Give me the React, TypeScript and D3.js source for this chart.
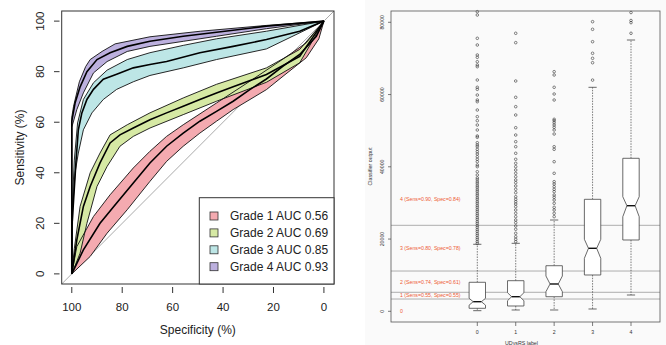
import React from 'react';
import * as d3 from 'd3';

// ---------- left panel: ROC curves (spec %, sens %) ----------
const specTicks = [100, 80, 60, 40, 20, 0];
const sensTicks = [0, 20, 40, 60, 80, 100];
const gradeLabels = ['Grade 1 AUC 0.56', 'Grade 2 AUC 0.69', 'Grade 3 AUC 0.85', 'Grade 4 AUC 0.93'];
const gradeColors = ['#F4AAB0', '#D6E9A4', '#BDE6E6', '#BCB0DE'];

type Pt = [number, number];

const grade1Median: Pt[] = [[100, 0], [95.4, 9.5], [88.8, 20], [82.2, 28], [75.6, 36], [69, 43.9], [62.4, 50.5], [55.8, 55.7], [49.2, 60.4], [42.6, 64.3], [36, 68.3], [29.4, 72.9], [22.8, 77.1], [16.2, 82.2], [9.6, 86.8], [3, 94], [0, 100]];
const grade1Upper: Pt[] = [[100, 0], [98, 10.8], [91.4, 22.7], [84.8, 31.3], [75.6, 41.9], [69, 48.5], [62.4, 54.4], [55.8, 59], [42.6, 67.6], [29.4, 76.2], [16.2, 85], [7, 91.4], [0, 100]];
const grade1Lower: Pt[] = [[100, 0], [92.7, 6.9], [86, 16.1], [78, 25.4], [69, 36.6], [62.4, 44.5], [55.8, 50.5], [49.2, 55.7], [42.6, 60.4], [36, 65], [22.8, 72.9], [16.2, 78.2], [7, 85.5], [2, 93], [0, 100]];

const grade2Median: Pt[] = [[100, 0], [98, 13.5], [95.4, 26.7], [92.7, 34.6], [88.8, 43.9], [84.8, 51.8], [80.9, 55], [75.6, 57.7], [69, 61], [62.4, 63.7], [55.8, 66.3], [49.2, 69], [42.6, 71.6], [36, 74], [22.8, 78.9], [9.6, 86], [0, 100]];
const grade2Upper: Pt[] = [[100, 0], [99, 10], [96.7, 26.7], [92.7, 40], [88.8, 47.8], [84.8, 55], [78, 59], [69, 63.7], [55.8, 69.6], [42.6, 75], [22.8, 81.5], [9.6, 88.8], [0, 100]];
const grade2Lower: Pt[] = [[100, 0], [96.7, 8.2], [94, 20], [90, 34.6], [86, 42.5], [80.9, 50.5], [75.6, 54.4], [69, 57.7], [55.8, 63], [42.6, 68.3], [22.8, 75.8], [9.6, 83.5], [0, 100]];

const grade3Median: Pt[] = [[100, 0], [100, 18], [99.3, 29], [98.3, 45], [97.4, 57], [96, 63.7], [94, 69], [91.4, 73], [87.5, 77], [82.2, 79], [75.6, 81.5], [69, 82.8], [62.4, 84], [49.2, 87.5], [36, 90], [22.8, 92.7], [9.6, 96], [0, 100]];
const grade3Upper: Pt[] = [[100, 0], [100, 22], [99, 45], [97.7, 59.7], [95.4, 69], [91.4, 75.6], [86, 80.6], [78, 84.8], [69, 87.5], [55.8, 90.4], [42.6, 93], [22.8, 96], [0, 100]];
const grade3Lower: Pt[] = [[100, 0], [99.6, 26.7], [98.7, 40], [97.4, 47.8], [95.4, 57], [92, 63.7], [87.5, 69], [82.2, 73], [75.6, 76], [69, 78.5], [55.8, 81.5], [42.6, 84.8], [22.8, 89], [0, 100]];

const grade4Median: Pt[] = [[100, 0], [100, 60.4], [98.7, 67.6], [96.7, 74], [94, 80], [90, 84.8], [84.8, 87.5], [78, 90], [69, 92], [55.8, 94], [42.6, 95.6], [22.8, 98], [0, 100]];
const grade4Upper: Pt[] = [[100, 0], [100, 62], [99.3, 66.3], [97, 76], [94.5, 82], [92.7, 84.8], [88, 88], [82.8, 91], [69, 93.8], [49, 96], [22.8, 98.3], [0, 100]];
const grade4Lower: Pt[] = [[100, 0], [100, 58], [98, 65], [95.4, 71.6], [91.4, 79.5], [86, 84], [78, 88], [69, 90], [55.8, 92], [42.6, 94], [22.8, 97], [0, 100]];

const medians = [grade1Median, grade2Median, grade3Median, grade4Median];
const uppers = [grade1Upper, grade2Upper, grade3Upper, grade4Upper];
const lowers = [grade1Lower, grade2Lower, grade3Lower, grade4Lower];

// ---------- right panel: boxplots ----------
const boxLabels = ['0', '1', '2', '3', '4'];
const boxLow = [170, 360, 360, 640, 4510];
const boxQ1 = [830, 1470, 4040, 10050, 19740];
const boxMedian = [2660, 4040, 7560, 17440, 29230];
const boxQ3 = [8030, 8470, 12620, 31000, 42350];
const boxHigh = [18550, 18820, 25270, 62000, 75100];
const notchLow = [1700, 2930, 5430, 14670, 26180];
const notchHigh = [3600, 5150, 9770, 19930, 31720];

const outliers0 = [82930, 82020, 75570, 73720, 70950, 70310, 69090, 68180, 67710, 64030, 62010, 61450, 59870, 58490, 58020, 55720, 53870, 52760, 51570, 50190, 48530, 48170, 46670, 46040, 45560, 44840, 44180, 43540, 42790, 42080, 41410, 40500, 40030, 38650, 37730, 36900, 36400, 35800, 35300, 34700, 34200, 33600, 33100, 32500, 32000, 31400, 30900, 30300, 29800, 29200, 28700, 28100, 27600, 27000, 26500, 25900, 25400, 24800, 24300, 23700, 23200, 22600, 22100, 21500, 21000, 20400, 19900, 19300, 18800];
const outliers1 = [76960, 74360, 63750, 59240, 56640, 54340, 50820, 48800, 46950, 45560, 43740, 42080, 40970, 40030, 39110, 38200, 37260, 36350, 35600, 34690, 33770, 32830, 31720, 31000, 30340, 29700, 28960, 28040, 27130, 26190, 25270, 24530, 23610, 22700, 21590, 20650, 19930, 19270];
const outliers2 = [66330, 65410, 62010, 60150, 58490, 53150, 52760, 52210, 51570, 50940, 50190, 49080, 45560, 44840, 41410, 38200, 35880, 35240, 34490, 33770, 33110, 32190, 31560, 30810, 29900, 28790, 28040, 27130, 26190];
const outliers3 = [80170, 78060, 74630, 71420, 70030, 68810, 64000];
const outliers4 = [82700, 80500, 79900, 76960];
const boxOutliers = [outliers0, outliers1, outliers2, outliers3, outliers4];

const outputTicks = [0, 20000, 40000, 60000, 80000];
const cutLines = [3400, 5260, 11150, 23800];
const cutLabels = ['0', '1 (Sens=0.55, Spec=0.55)', '2 (Sens=0.74, Spec=0.61)', '3 (Sens=0.80, Spec=0.78)', '4 (Sens=0.90, Spec=0.84)'];
const cutLabelAt = [0, 4430, 8110, 17520, 31000];

const FONT = '"Liberation Sans", Arial, Helvetica, sans-serif';

const RocPanel: React.FC = () => {
  const box = { left: 61.7, right: 334, top: 11, bottom: 284 };
  const x = d3.scaleLinear().domain([104, -4]).range([box.left, box.right]);
  const y = d3.scaleLinear().domain([-4, 104]).range([box.bottom, box.top]);
  const line = d3.line<Pt>().x(d => x(d[0])).y(d => y(d[1]));
  const band = (up: Pt[], lo: Pt[]) => line([...up, ...lo.slice().reverse()]) + 'Z';
  const legend = { left: 199.3, top: 197.7 };
  const legendY = d3.scalePoint<number>().domain([0, 1, 2, 3]).range([216, 266.7]);

  return (
    <g fontFamily={FONT} fill="#222">
      <defs>
        <clipPath id="rocClip">
          <rect x={box.left} y={box.top} width={box.right - box.left} height={box.bottom - box.top} />
        </clipPath>
      </defs>
      <line x1={x(104)} y1={y(-4)} x2={x(-4)} y2={y(104)} stroke="#aaaaaa" strokeWidth={1} clipPath="url(#rocClip)" />
      {medians.map((_, i) => (
        <path key={'b' + i} d={band(uppers[i], lowers[i])} fill={gradeColors[i]} stroke="none" />
      ))}
      {medians.map((_, i) => (
        <g key={'e' + i} fill="none" stroke="#111" strokeWidth={0.9}>
          <path d={line(uppers[i]) || ''} />
          <path d={line(lowers[i]) || ''} />
        </g>
      ))}
      {medians.map((m, i) => (
        <path key={'m' + i} d={line(m) || ''} fill="none" stroke="#000" strokeWidth={1.6} />
      ))}
      <rect x={box.left} y={box.top} width={box.right - box.left} height={box.bottom - box.top} fill="none" stroke="#333" strokeWidth={1} />
      {specTicks.map(t => (
        <g key={'xt' + t}>
          <line x1={x(t)} x2={x(t)} y1={287} y2={293} stroke="#333" />
          <text x={x(t)} y={311} fontSize={11.5} textAnchor="middle">{t}</text>
        </g>
      ))}
      {sensTicks.map(t => (
        <g key={'yt' + t}>
          <line x1={54} x2={59.5} y1={y(t)} y2={y(t)} stroke="#333" />
          <text transform={`translate(44,${y(t)}) rotate(-90)`} fontSize={11.5} textAnchor="middle">{t}</text>
        </g>
      ))}
      <text x={(box.left + box.right) / 2} y={334} fontSize={12} textAnchor="middle">Specificity (%)</text>
      <text transform={`translate(24,${(box.top + box.bottom) / 2}) rotate(-90)`} fontSize={12} textAnchor="middle">Sensitivity (%)</text>
      <rect x={legend.left} y={legend.top} width={box.right - legend.left} height={box.bottom - legend.top} fill="#fff" stroke="#333" strokeWidth={1} />
      {gradeLabels.map((g, i) => (
        <g key={g}>
          <rect x={210} y={legendY(i)! - 4} width={8} height={8} fill={gradeColors[i]} stroke="#333" strokeWidth={0.8} />
          <text x={230} y={legendY(i)! + 4.2} fontSize={12}>{g}</text>
        </g>
      ))}
    </g>
  );
};

const BoxPanel: React.FC = () => {
  const frame = { left: 391, right: 660, top: 11, bottom: 322 };
  const x = d3.scaleLinear().domain([0, 4]).range([477.3, 631]);
  const y = d3.scaleLinear().domain([0, 80000]).range([311.3, 22.3]);
  const hw = 8.2;
  const ink = '#444';

  return (
    <g fontFamily={FONT}>
      <rect x={365} y={0} width={301} height={345} fill="#fafafa" />
      {cutLines.map(v => (
        <line key={'c' + v} x1={frame.left} x2={frame.right} y1={y(v)} y2={y(v)} stroke="#9a9a9a" strokeWidth={0.8} />
      ))}
      {cutLabels.map((t, i) => (
        <text key={t} x={400} y={y(cutLabelAt[i]) + 1.8} fontSize={5.2} fill="#EE5A36">{t}</text>
      ))}
      {boxLabels.map((lab, i) => {
        const cx = x(i);
        const notchPath = [
          [cx - hw, y(boxQ1[i])], [cx - hw, y(notchLow[i])], [cx - hw / 2, y(boxMedian[i])],
          [cx - hw, y(notchHigh[i])], [cx - hw, y(boxQ3[i])], [cx + hw, y(boxQ3[i])],
          [cx + hw, y(notchHigh[i])], [cx + hw / 2, y(boxMedian[i])], [cx + hw, y(notchLow[i])],
          [cx + hw, y(boxQ1[i])],
        ] as [number, number][];
        return (
          <g key={'bx' + lab}>
            <line x1={cx} x2={cx} y1={y(boxQ3[i])} y2={y(boxHigh[i])} stroke={ink} strokeWidth={0.7} strokeDasharray="1.5,1.2" />
            <line x1={cx} x2={cx} y1={y(boxQ1[i])} y2={y(boxLow[i])} stroke={ink} strokeWidth={0.7} strokeDasharray="1.5,1.2" />
            <line x1={cx - hw / 2} x2={cx + hw / 2} y1={y(boxHigh[i])} y2={y(boxHigh[i])} stroke={ink} strokeWidth={0.8} />
            <line x1={cx - hw / 2} x2={cx + hw / 2} y1={y(boxLow[i])} y2={y(boxLow[i])} stroke={ink} strokeWidth={0.8} />
            <path d={(d3.line()(notchPath) || '') + 'Z'} fill="#fff" stroke={ink} strokeWidth={0.8} />
            <line x1={cx - hw / 2} x2={cx + hw / 2} y1={y(boxMedian[i])} y2={y(boxMedian[i])} stroke="#111" strokeWidth={1.4} />
            {boxOutliers[i].map((v, k) => (
              <circle key={k} cx={cx} cy={y(v)} r={1.3} fill="none" stroke="#333" strokeWidth={0.6} />
            ))}
            <line x1={cx} x2={cx} y1={frame.bottom} y2={frame.bottom + 4} stroke={ink} strokeWidth={0.7} />
            <text x={cx} y={333.5} fontSize={5.2} textAnchor="middle" fill="#333">{lab}</text>
          </g>
        );
      })}
      <rect x={frame.left} y={frame.top} width={frame.right - frame.left} height={frame.bottom - frame.top} fill="none" stroke="#555" strokeWidth={0.8} />
      {outputTicks.map(t => (
        <g key={'ot' + t}>
          <line x1={388} x2={frame.left} y1={y(t)} y2={y(t)} stroke={ink} strokeWidth={0.7} />
          <text transform={`translate(383.5,${y(t)}) rotate(-90)`} fontSize={5.2} textAnchor="middle" fill="#333">{t}</text>
        </g>
      ))}
      <text transform={`translate(371.5,${(frame.top + frame.bottom) / 2}) rotate(-90)`} fontSize={5.3} textAnchor="middle" fill="#333">Classifier output</text>
      <text x={(frame.left + frame.right) / 2 - 4} y={344.5} fontSize={5.3} textAnchor="middle" fill="#333">UDysRS label</text>
    </g>
  );
};

export default function App() {
  return (
    <div style={{ position: 'absolute', left: 0, top: 0 }}>
      <svg width={666} height={345} style={{ display: 'block', background: '#fff' }}>
        <RocPanel />
        <BoxPanel />
      </svg>
    </div>
  );
}
